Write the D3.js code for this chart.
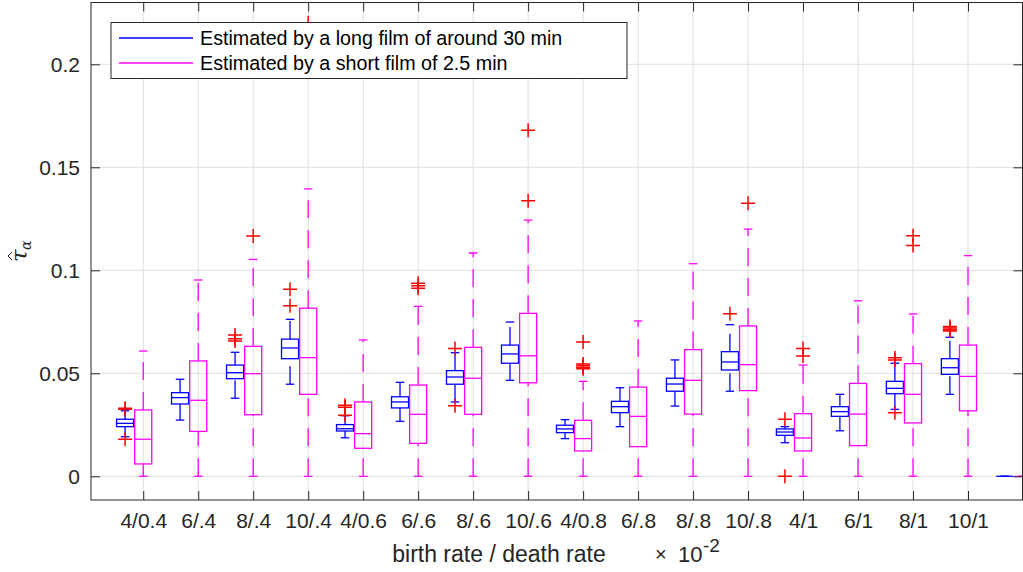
<!DOCTYPE html>
<html><head><meta charset="utf-8">
<script src="https://cdn.jsdelivr.net/npm/d3@7"></script>
<style>body{margin:0;background:#fff}svg{display:block}text{font-family:"Liberation Sans",Arial,sans-serif}</style>
</head><body>
<svg id="c" width="1023" height="572"></svg>
<script>
const categories = ["4/0.4","6/.4","8/.4","10/.4","4/0.6","6/.6","8/.6","10/.6","4/0.8","6/.8","8/.8","10/.8","4/1","6/1","8/1","10/1"];
const seriesNames = ["Estimated by a long film of around 30 min","Estimated by a short film of 2.5 min"];
const yTicks = [0,0.05,0.1,0.15,0.2];
// long film (blue): 17 groups, the last one is an empty/zero group
const longLo  = [.0192,.0273,.0379,.0447,.0187,.0267,.0361,.0466,.0183,.0241,.0341,.0413,.0163,.0221,.0325,.0398,0];
const longQ1  = [.0241,.0351,.0474,.0571,.0220,.0332,.0447,.0549,.0212,.0309,.0413,.0516,.0199,.0291,.0401,.0495,0];
const longMed = [.0257,.0382,.0503,.0623,.0231,.0361,.0482,.0594,.0230,.0338,.0448,.0555,.0215,.0314,.0427,.0527,0];
const longQ3  = [.0277,.0406,.0540,.0666,.0251,.0386,.0513,.0637,.0248,.0364,.0476,.0605,.0230,.0338,.0461,.0571,0];
const longHi  = [.0318,.0471,.0602,.0762,.0294,.0456,.0600,.0749,.0275,.0430,.0565,.0736,.0241,.0398,.0549,.0675,0];
const longOut = [[.033,.0325,.018],[],[.0686,.0668,.0657],[.0908,.0828],[.0345,.0335,.0297],[],[.0621,.0343],[],[],[],[],[.0789],[.0277,0],[],[.0575,.0565,.0309],[.0727,.072,.0712,.0705],[]];
// short film (magenta)
const shortLo  = [0,0,0,0,0,0,0,0,0,0,0,0,0,0,0,0,0];
const shortQ1  = [.0060,.0218,.0299,.0398,.0136,.0160,.0301,.0454,.0123,.0144,.0302,.0416,.0123,.0149,.0259,.0318,0];
const shortMed = [.0180,.0369,.0498,.0576,.0207,.0301,.0476,.0585,.0183,.0291,.0466,.0542,.0186,.0302,.0398,.0485,0];
const shortQ3  = [.0322,.0560,.0631,.0816,.0361,.0443,.0626,.0791,.0272,.0433,.0615,.0730,.0304,.0451,.0547,.0637,0];
const shortHi  = [.0608,.0953,.1053,.1395,.0662,.0825,.1084,.1244,.0461,.0754,.1032,.1200,.0540,.0852,.0788,.1071,0];
const shortOut = [[],[],[.1166],[.2202],[],[.0937,.0925,.0913],[],[.1338,.168],[.0652,.0545,.0538,.053,.0522],[],[],[.1325],[.0621,.0584],[],[.1168,.1121],[],[]];

const svg = d3.select("#c");
const L=91,R=1022.5,T=2.5,B=500;
const x = d3.scaleLinear().domain([0.05,17]).range([91,1023]);
const y = d3.scaleLinear().domain([-0.0115,0.23]).range([B,T]);
const axisCol="#262626", gridCol="#dfdfdf";
const fs=21;

svg.append("defs").append("clipPath").attr("id","clip").append("rect")
  .attr("x",L).attr("y",T).attr("width",R-L).attr("height",B-T);

// grid
const g = svg.append("g");
const xPos = d3.range(1,categories.length+1);
g.selectAll(".gx").data(xPos).join("line").attr("x1",d=>x(d)).attr("x2",d=>x(d)).attr("y1",T).attr("y2",B).attr("stroke",gridCol).attr("stroke-width",1);
g.selectAll(".gy").data(yTicks).join("line").attr("y1",d=>y(d)).attr("y2",d=>y(d)).attr("x1",L).attr("x2",R).attr("stroke",gridCol).attr("stroke-width",1);

// boxes
const plot = svg.append("g").attr("clip-path","url(#clip)");
const half=0.155, capHalf=0.078;
function drawSeries(lo,q1,med,q3,hi,out,off,col){
  const gs = plot.append("g");
  lo.forEach((_,i)=>{
    const c=i+1+off;
    const gg=gs.append("g").attr("stroke",col).attr("fill","none").attr("stroke-width",1.3);
    gg.append("line").attr("x1",x(c)).attr("x2",x(c)).attr("y1",y(lo[i])).attr("y2",y(q1[i])).attr("stroke-dasharray","18,12");
    gg.append("line").attr("x1",x(c)).attr("x2",x(c)).attr("y1",y(q3[i])).attr("y2",y(hi[i])).attr("stroke-dasharray","18,12");
    [lo[i],hi[i]].forEach(v=>gg.append("line").attr("x1",x(c-capHalf)).attr("x2",x(c+capHalf)).attr("y1",y(v)).attr("y2",y(v)));
    gg.append("rect").attr("x",x(c-half)).attr("width",x(c+half)-x(c-half)).attr("y",y(q3[i])).attr("height",Math.max(0,y(q1[i])-y(q3[i])));
    gg.append("line").attr("x1",x(c-half)).attr("x2",x(c+half)).attr("y1",y(med[i])).attr("y2",y(med[i]));
    out[i].forEach(v=>{
      const px=x(c), py=y(v);
      gs.append("path").attr("d",`M${px-7},${py}H${px+7}M${px},${py-7}V${py+7}`).attr("stroke","#ff0000").attr("stroke-width",1.5).attr("fill","none");
    });
  });
}
drawSeries(longLo,longQ1,longMed,longQ3,longHi,longOut,-0.33,"#0000ff");
drawSeries(shortLo,shortQ1,shortMed,shortQ3,shortHi,shortOut,0,"#ff00ff");

// axes
const ax = svg.append("g");
const axB = ax.append("g").attr("transform",`translate(0,${B})`)
  .call(d3.axisBottom(x).tickValues(xPos).tickFormat(d=>categories[d-1]).tickSize(-9).tickPadding(13));
const axT = ax.append("g").attr("transform",`translate(0,${T})`)
  .call(d3.axisTop(x).tickValues(xPos).tickFormat("").tickSize(-9));
const axL = ax.append("g").attr("transform",`translate(${L},0)`)
  .call(d3.axisLeft(y).tickValues(yTicks).tickFormat(d=>String(d)).tickSize(-9).tickPadding(11));
const axR = ax.append("g").attr("transform",`translate(${R},0)`)
  .call(d3.axisRight(y).tickValues(yTicks).tickFormat("").tickSize(-9));
[axB,axT,axL,axR].forEach(a=>{
  a.select(".domain").remove();
  a.selectAll("line").attr("stroke",axisCol);
  a.selectAll("text").attr("fill",axisCol).style("font-size",fs+"px");
  a.attr("font-family",null).attr("font-size",null);
});
ax.append("rect").attr("x",L).attr("y",T).attr("width",R-L).attr("height",B-T).attr("fill","none").attr("stroke",axisCol).attr("stroke-width",1);

// legend
const lg = svg.append("g");
lg.append("rect").attr("x",111).attr("y",22.5).attr("width",516).attr("height",56).attr("fill","#fff").attr("stroke",axisCol).attr("stroke-width",1);
[["#0000ff",38],["#ff00ff",63]].forEach(([c,yy],k)=>{
  lg.append("line").attr("x1",119).attr("x2",193).attr("y1",yy).attr("y2",yy).attr("stroke",c).attr("stroke-width",1.3);
  lg.append("text").attr("x",200).attr("y",yy+7).text(seriesNames[k]).style("font-size","19.7px").attr("fill","#000");
});

// x label
svg.append("text").attr("x",499).attr("y",562).attr("text-anchor","middle").style("font-size","23px").attr("fill",axisCol).text("birth rate / death rate");
svg.append("text").attr("x",655).attr("y",561).attr("fill",axisCol).style("font-size","20px").text("×");
svg.append("text").attr("x",678).attr("y",562).attr("fill",axisCol).style("font-size","22px").text("10");
svg.append("text").attr("x",703).attr("y",552).attr("fill",axisCol).style("font-size","19px").text("-2");

// y label
const yl = svg.append("g").attr("transform","translate(27,253) rotate(-90)");
yl.append("text").attr("x",-9).attr("y",0).style("font-size","23px").style("font-style","italic").style("font-family","'DejaVu Serif',serif").attr("fill",axisCol).text("τ");
yl.append("path").attr("d","M-7,-15 L-3,-19 L1,-15").attr("fill","none").attr("stroke",axisCol).attr("stroke-width",1);
yl.append("text").attr("x",3).attr("y",4).style("font-size","14px").style("font-style","italic").style("font-family","'DejaVu Serif',serif").attr("fill",axisCol).text("α");
</script>
</body></html>
